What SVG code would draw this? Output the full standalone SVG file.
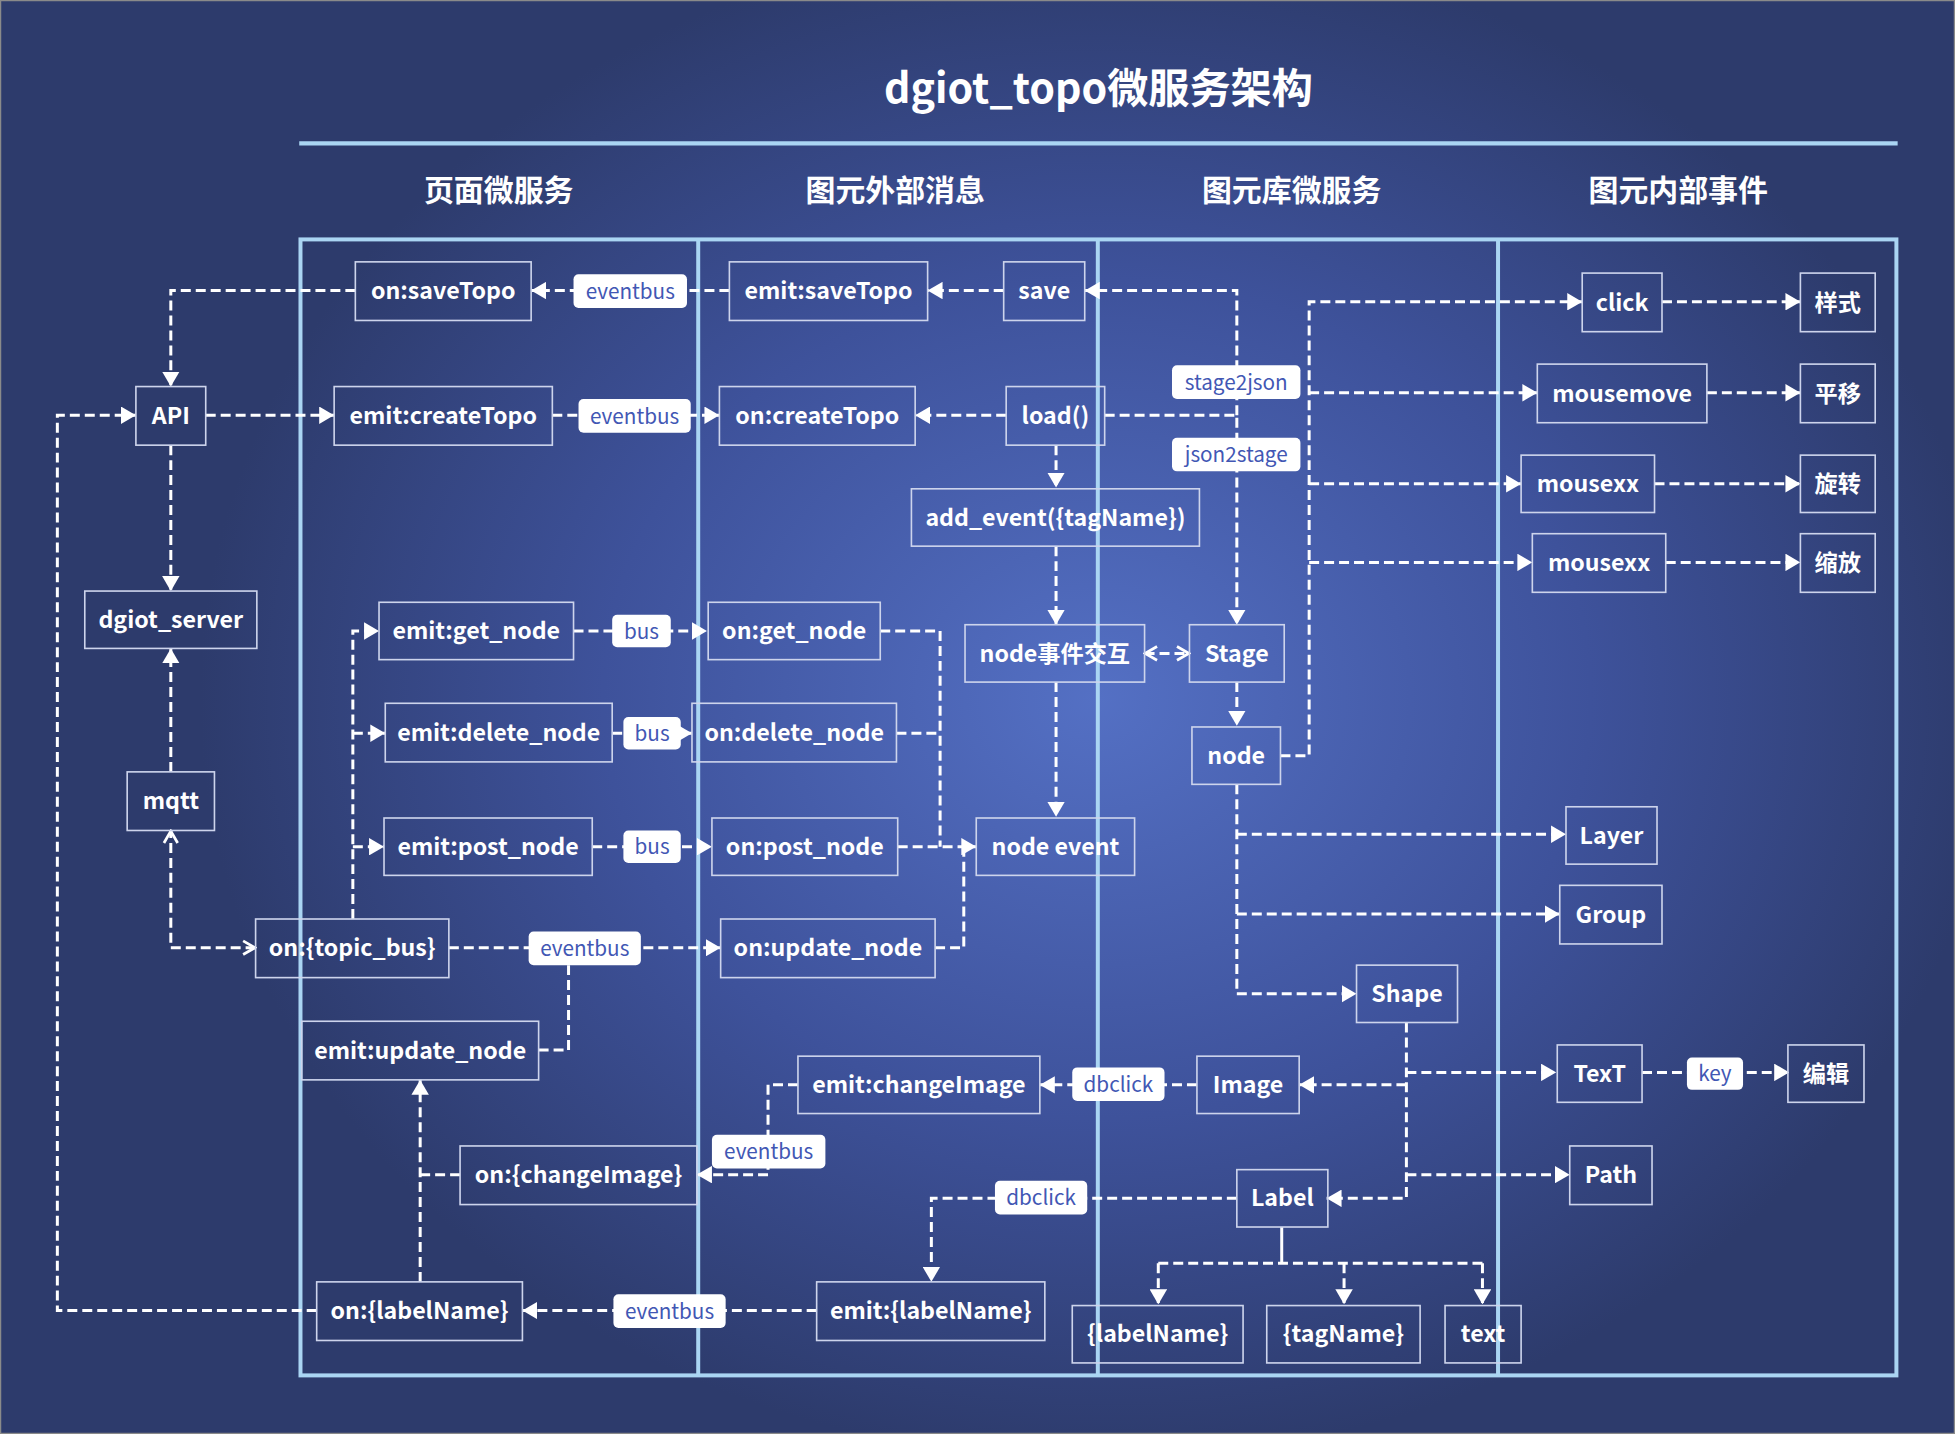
<svg xmlns="http://www.w3.org/2000/svg" width="1955" height="1434" viewBox="0 0 1955 1434">
<defs>
<radialGradient id="bg" gradientUnits="userSpaceOnUse" cx="880" cy="560" r="720" gradientTransform="translate(880 560) scale(1 0.85) translate(-880 -560)">
<stop offset="0" stop-color="#5470C4"/>
<stop offset="0.55" stop-color="#3E529B"/>
<stop offset="1" stop-color="#2D3B6C"/>
</radialGradient>
<marker id="a" viewBox="0 0 12 14" refX="12" refY="7" markerWidth="12" markerHeight="14" markerUnits="userSpaceOnUse" orient="auto-start-reverse">
<path d="M0,0 L12,7 L0,14 z" fill="#fff"/>
</marker>
<marker id="o" viewBox="0 0 12 14" refX="11" refY="7" markerWidth="12" markerHeight="14" markerUnits="userSpaceOnUse" orient="auto-start-reverse">
<path d="M1,1.5 L10.5,7 L1,12.5" fill="none" stroke="#fff" stroke-width="2.2"/>
</marker>
<style>
.n rect{fill:none;stroke:#CDD4EC;stroke-width:1.3;}
.n text{fill:#fff;font-family:"Noto Sans CJK SC","Noto Sans",sans-serif;font-weight:700;font-size:18.6px;text-anchor:middle;dominant-baseline:central;transform:translateY(-1.5px);}
.l rect{fill:#fff;stroke:none;}
.l text{fill:#4257B4;font-family:"Noto Sans CJK SC","Noto Sans",sans-serif;font-weight:400;font-size:16.6px;text-anchor:middle;dominant-baseline:central;transform:translateY(-1px);}
.c path{fill:none;stroke:#fff;stroke-width:2.4;stroke-dasharray:8 4;}
.c path.ar{marker-end:url(#a);}
.c path.oo{marker-start:url(#o);marker-end:url(#o);}
.c path.solid{stroke-dasharray:none;}
.fr{fill:none;stroke:#AAD5F3;stroke-width:3.2;}
.hd{fill:#fff;font-family:"Noto Sans CJK SC","Noto Sans",sans-serif;font-weight:700;font-size:24px;text-anchor:middle;dominant-baseline:central;transform:translateY(-1.5px);}
</style>
</defs>
<g transform="scale(1.24681 1.24696)">
<rect x="0" y="0" width="1568" height="1150" fill="url(#bg)"/>
<rect x="0.5" y="0.5" width="1567" height="1149" fill="none" stroke="#8A8A8A" stroke-width="1"/>

<g id="title">
<text x="881" y="70" class="hd" style="font-size:33px">dgiot_topo微服务架构</text>
<line x1="240" y1="115" x2="1522" y2="115" stroke="#AAD5F3" stroke-width="3.5"/>
<text x="400" y="152" class="hd">页面微服务</text>
<text x="718" y="152" class="hd">图元外部消息</text>
<text x="1036" y="152" class="hd">图元库微服务</text>
<text x="1346" y="152" class="hd">图元内部事件</text>
</g>

<g id="frame">
<rect x="241" y="192" width="1280" height="911" class="fr"/>
<line x1="560" y1="192" x2="560" y2="1103" class="fr"/>
<line x1="880.5" y1="192" x2="880.5" y2="1103" class="fr"/>
<line x1="1201.5" y1="192" x2="1201.5" y2="1103" class="fr"/>
</g>

<g id="connectors" class="c">
<path class="ar" d="M285,233 H137 V310"/>
<path class="ar" d="M585,233 H426"/>
<path class="ar" d="M805,233 H744"/>
<path class="ar" d="M992,333 V233 H870"/>
<path class="ar" d="M886,333 H992 V501"/>
<path class="ar" d="M807,333 H734"/>
<path class="ar" d="M443,333 H577"/>
<path class="ar" d="M165,333 H268"/>
<path class="ar" d="M254,1051 H46 V333 H109"/>
<path class="ar" d="M137,357 V474"/>
<path class="ar" d="M137,619 V520"/>
<path class="oo" d="M205,760 H137 V666"/>
<path class="ar" d="M847,357 V391"/>
<path class="ar" d="M847,438 V501"/>
<path class="oo" d="M918,524 H954"/>
<path class="ar" d="M992,547 V582"/>
<path class="ar" d="M847,547 V655"/>
<path class="ar" d="M1027,606 H1050 V242 H1269"/>
<path class="ar" d="M1050,315 H1233"/>
<path class="ar" d="M1050,388 H1220"/>
<path class="ar" d="M1050,451 H1229"/>
<path class="ar" d="M1333,242 H1444"/>
<path class="ar" d="M1369,315 H1444"/>
<path class="ar" d="M1327,388 H1444"/>
<path class="ar" d="M1336,451 H1444"/>
<path class="ar" d="M992,629 V797 H1088"/>
<path class="ar" d="M992,669 H1256"/>
<path class="ar" d="M992,733 H1251"/>
<path class="ar" d="M1128,820 V961 H1064"/>
<path class="ar" d="M1128,860 H1248"/>
<path class="ar" d="M1128,870 H1042"/>
<path class="ar" d="M1128,942 H1259"/>
<path class="ar" d="M1317,860 H1435"/>
<path class="ar" d="M960,870 H834"/>
<path class="ar" d="M640,870 H616 V942 H559"/>
<path d="M369,942 H337"/>
<path class="ar" d="M337,1028 V866"/>
<path class="ar" d="M992,961 H747 V1028"/>
<path class="ar" d="M655,1051 H419"/>
<path class="solid" d="M1028,984 V1013"/>
<path d="M929,1013 H1189"/>
<path class="ar" d="M929,1013 V1046"/>
<path class="ar" d="M1078,1013 V1046"/>
<path class="ar" d="M1189,1013 V1046"/>
<path class="ar" d="M360,760 H578"/>
<path d="M432,842 H456 V773"/>
<path class="ar" d="M283,737 V506 H304"/>
<path class="ar" d="M283,588 H309"/>
<path class="ar" d="M283,679 H308"/>
<path class="ar" d="M460,506 H567"/>
<path class="ar" d="M491,588 H555"/>
<path class="ar" d="M475,679 H571"/>
<path d="M706,506 H754 V679"/>
<path d="M719,588 H754"/>
<path class="ar" d="M720,679 H783"/>
<path d="M750,760 H773 V679"/>
</g>

<g id="edge-labels" class="l">
<g id="lb1"><rect x="460" y="220" width="91" height="27" rx="4"/><text x="505.5" y="233.5">eventbus</text></g>
<g id="lb2"><rect x="464" y="320" width="90" height="27" rx="4"/><text x="509" y="333.5">eventbus</text></g>
<g id="lb3"><rect x="940" y="293" width="103" height="27" rx="4"/><text x="991.5" y="306.5">stage2json</text></g>
<g id="lb4"><rect x="940" y="351" width="103" height="27" rx="4"/><text x="991.5" y="364.5">json2stage</text></g>
<g id="lb5"><rect x="491" y="493" width="47" height="26" rx="4"/><text x="514.5" y="506">bus</text></g>
<g id="lb6"><rect x="500" y="575" width="46" height="26" rx="4"/><text x="523" y="588">bus</text></g>
<g id="lb7"><rect x="500" y="666" width="46" height="26" rx="4"/><text x="523" y="679">bus</text></g>
<g id="lb8"><rect x="424" y="747" width="90" height="27" rx="4"/><text x="469" y="760.5">eventbus</text></g>
<g id="lb9"><rect x="860" y="856" width="74" height="27" rx="4"/><text x="897" y="869.5">dbclick</text></g>
<g id="lb10"><rect x="571" y="910" width="91" height="27" rx="4"/><text x="616.5" y="923.5">eventbus</text></g>
<g id="lb11"><rect x="798" y="947" width="74" height="27" rx="4"/><text x="835" y="960.5">dbclick</text></g>
<g id="lb12"><rect x="492" y="1038" width="90" height="27" rx="4"/><text x="537" y="1051.5">eventbus</text></g>
<g id="lb13"><rect x="1353" y="848" width="45" height="26" rx="4"/><text x="1375.5" y="861">key</text></g>
</g>

<g id="nodes" class="n">
<g id="n-onSaveTopo"><rect x="285" y="210" width="141" height="47"/><text x="355.5" y="233.5">on:saveTopo</text></g>
<g id="n-emitSaveTopo"><rect x="585" y="210" width="159" height="47"/><text x="664.5" y="233.5">emit:saveTopo</text></g>
<g id="n-save"><rect x="805" y="210" width="65" height="47"/><text x="837.5" y="233.5">save</text></g>
<g id="n-api"><rect x="109" y="310" width="56" height="47"/><text x="137" y="333.5">API</text></g>
<g id="n-emitCreateTopo"><rect x="268" y="310" width="175" height="47"/><text x="355.5" y="333.5">emit:createTopo</text></g>
<g id="n-onCreateTopo"><rect x="577" y="310" width="157" height="47"/><text x="655.5" y="333.5">on:createTopo</text></g>
<g id="n-load"><rect x="807" y="310" width="79" height="47"/><text x="846.5" y="333.5">load()</text></g>
<g id="n-addEvent"><rect x="731" y="392" width="231" height="46"/><text x="846.5" y="415">add_event({tagName})</text></g>
<g id="n-dgiotServer"><rect x="68" y="474" width="138" height="46"/><text x="137" y="497">dgiot_server</text></g>
<g id="n-emitGetNode"><rect x="304" y="483" width="156" height="46"/><text x="382" y="506">emit:get_node</text></g>
<g id="n-onGetNode"><rect x="568" y="483" width="138" height="46"/><text x="637" y="506">on:get_node</text></g>
<g id="n-nodeInteract"><rect x="774" y="501" width="144" height="46"/><text x="846" y="524">node事件交互</text></g>
<g id="n-stage"><rect x="954" y="501" width="76" height="46"/><text x="992" y="524">Stage</text></g>
<g id="n-emitDeleteNode"><rect x="309" y="564" width="182" height="47"/><text x="400" y="587.5">emit:delete_node</text></g>
<g id="n-onDeleteNode"><rect x="555" y="564" width="164" height="47"/><text x="637" y="587.5">on:delete_node</text></g>
<g id="n-node"><rect x="956" y="583" width="71" height="46"/><text x="991.5" y="606">node</text></g>
<g id="n-mqtt"><rect x="102" y="619" width="70" height="47"/><text x="137" y="642.5">mqtt</text></g>
<g id="n-emitPostNode"><rect x="308" y="656" width="167" height="46"/><text x="391.5" y="679">emit:post_node</text></g>
<g id="n-onPostNode"><rect x="571" y="656" width="149" height="46"/><text x="645.5" y="679">on:post_node</text></g>
<g id="n-nodeEvent"><rect x="783" y="656" width="127" height="46"/><text x="846.5" y="679">node event</text></g>
<g id="n-onTopicBus"><rect x="205" y="737" width="155" height="47"/><text x="282.5" y="760.5">on:{topic_bus}</text></g>
<g id="n-onUpdateNode"><rect x="578" y="737" width="172" height="47"/><text x="664" y="760.5">on:update_node</text></g>
<g id="n-emitUpdateNode"><rect x="242" y="819" width="190" height="47"/><text x="337" y="842.5">emit:update_node</text></g>
<g id="n-emitChangeImage"><rect x="640" y="847" width="194" height="46"/><text x="737" y="870">emit:changeImage</text></g>
<g id="n-image"><rect x="960" y="847" width="82" height="46"/><text x="1001" y="870">Image</text></g>
<g id="n-onChangeImage"><rect x="369" y="919" width="190" height="47"/><text x="464" y="942.5">on:{changeImage}</text></g>
<g id="n-label"><rect x="992" y="938" width="73" height="46"/><text x="1028.5" y="961">Label</text></g>
<g id="n-onLabelName"><rect x="254" y="1028" width="165" height="47"/><text x="336.5" y="1051.5">on:{labelName}</text></g>
<g id="n-emitLabelName"><rect x="655" y="1028" width="183" height="47"/><text x="746.5" y="1051.5">emit:{labelName}</text></g>
<g id="n-labelName"><rect x="860" y="1047" width="137" height="46"/><text x="928.5" y="1070">{labelName}</text></g>
<g id="n-tagName"><rect x="1016" y="1047" width="123" height="46"/><text x="1077.5" y="1070">{tagName}</text></g>
<g id="n-text"><rect x="1159" y="1047" width="61" height="46"/><text x="1189.5" y="1070">text</text></g>
<g id="n-click"><rect x="1269" y="219" width="64" height="47"/><text x="1301" y="242.5">click</text></g>
<g id="n-style"><rect x="1444" y="219" width="60" height="47"/><text x="1474" y="242.5">样式</text></g>
<g id="n-mousemove"><rect x="1233" y="292" width="136" height="47"/><text x="1301" y="315.5">mousemove</text></g>
<g id="n-pan"><rect x="1444" y="292" width="60" height="47"/><text x="1474" y="315.5">平移</text></g>
<g id="n-mousexx1"><rect x="1220" y="365" width="107" height="46"/><text x="1273.5" y="388">mousexx</text></g>
<g id="n-rotate"><rect x="1444" y="365" width="60" height="46"/><text x="1474" y="388">旋转</text></g>
<g id="n-mousexx2"><rect x="1229" y="428" width="107" height="47"/><text x="1282.5" y="451.5">mousexx</text></g>
<g id="n-zoom"><rect x="1444" y="428" width="60" height="47"/><text x="1474" y="451.5">缩放</text></g>
<g id="n-layer"><rect x="1256" y="647" width="73" height="46"/><text x="1292.5" y="670">Layer</text></g>
<g id="n-group"><rect x="1251" y="710" width="82" height="47"/><text x="1292" y="733.5">Group</text></g>
<g id="n-shape"><rect x="1088" y="774" width="81" height="46"/><text x="1128.5" y="797">Shape</text></g>
<g id="n-textT"><rect x="1249" y="838" width="68" height="46"/><text x="1283" y="861">TexT</text></g>
<g id="n-edit"><rect x="1434" y="838" width="61" height="46"/><text x="1464.5" y="861">编辑</text></g>
<g id="n-path"><rect x="1259" y="919" width="66" height="47"/><text x="1292" y="942.5">Path</text></g>
</g>
</g>
</svg>
